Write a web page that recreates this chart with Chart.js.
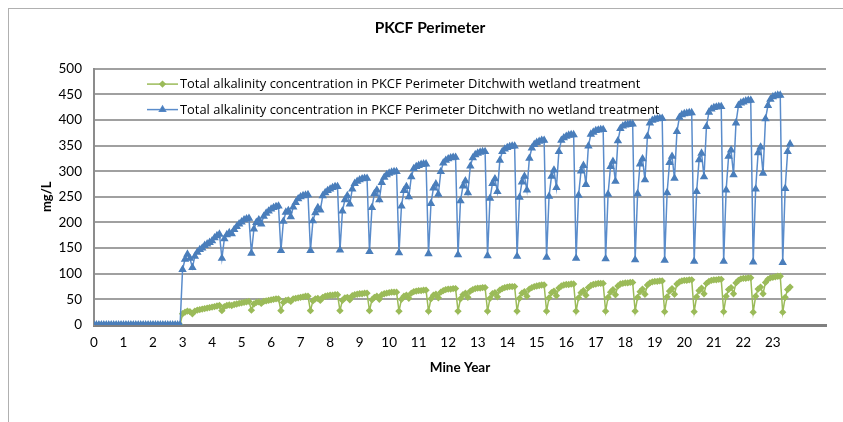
<!DOCTYPE html>
<html>
<head>
<meta charset="utf-8">
<script src="https://cdn.jsdelivr.net/npm/chart.js@4.4.0/dist/chart.umd.min.js"></script>
<style>
  html, body { margin: 0; padding: 0; background: #fff; }
  #wrap { position: relative; width: 843px; height: 422px; }
  #frame { position: absolute; left: 8px; top: 8px; right: -2px; bottom: -2px;
           border-top: 1px solid #b0b0b0; border-left: 1px solid #b0b0b0; }
  canvas { position: absolute; left: 0; top: 0; }
</style>
</head>
<body>
<div id="wrap">
  <div id="frame"></div>
  <canvas id="Chart" width="843" height="422"></canvas>
</div>
<script>
// mine year ticks shown on the x axis
const yearTicks = [0, 1, 2, 3, 4, 5, 6, 7, 8, 9, 10, 11, 12, 13, 14, 15, 16, 17, 18, 19, 20, 21, 22, 23];
const perYear = 12; // monthly values, one row per mine year

const seriesNames = [
  'Total alkalinity concentration in PKCF Perimeter Ditchwith wetland treatment',
  'Total alkalinity concentration in PKCF Perimeter Ditchwith no wetland treatment'
];

// mg/L, with wetland treatment
const wetland = [
  0, 0, 0, 0, 0, 0, 0, 0, 0, 0, 0, 0,
  0, 0, 0, 0, 0, 0, 0, 0, 0, 0, 0, 0,
  0, 0, 0, 0, 0, 0, 0, 0, 0, 0, 0, 0,
  22, 25, 27, 26, 22, 27, 29, 30, 31, 32, 33, 34,
  35, 36, 37, 38, 28, 36, 38, 39, 38, 40, 41, 42,
  43, 44, 45, 46, 29, 41, 44, 45, 42, 46, 47, 48,
  49, 50, 51, 51, 28, 44, 48, 49, 46, 51, 52, 53,
  54, 55, 56, 56, 28, 47, 51, 52, 48, 54, 56, 57,
  58, 58, 59, 59, 28, 48, 53, 54, 49, 57, 59, 60,
  61, 61, 62, 62, 28, 49, 54, 56, 50, 59, 61, 62,
  63, 64, 64, 64, 27, 50, 56, 58, 52, 62, 65, 66,
  67, 67, 68, 68, 27, 51, 58, 60, 53, 64, 67, 69,
  70, 70, 71, 71, 27, 51, 59, 62, 54, 66, 69, 71,
  72, 72, 73, 73, 27, 52, 61, 63, 55, 68, 71, 73,
  74, 75, 75, 75, 27, 52, 62, 65, 56, 70, 73, 75,
  76, 77, 78, 78, 27, 53, 63, 66, 57, 72, 76, 78,
  79, 79, 80, 80, 27, 53, 63, 67, 58, 73, 77, 79,
  80, 81, 81, 81, 27, 54, 64, 69, 59, 76, 80, 81,
  82, 82, 83, 83, 27, 54, 65, 70, 60, 78, 82, 84,
  85, 85, 86, 86, 26, 55, 66, 71, 60, 80, 84, 86,
  87, 87, 88, 88, 26, 55, 67, 72, 61, 81, 85, 87,
  88, 88, 89, 89, 26, 56, 69, 73, 61, 82, 87, 90,
  91, 91, 92, 92, 25, 56, 70, 74, 61, 83, 89, 92,
  93, 94, 95, 95, 25, 54, 69, 74
];

// mg/L, with no wetland treatment
const noWetland = [
  0, 0, 0, 0, 0, 0, 0, 0, 0, 0, 0, 0,
  0, 0, 0, 0, 0, 0, 0, 0, 0, 0, 0, 0,
  0, 0, 0, 0, 0, 0, 0, 0, 0, 0, 0, 0,
  108, 128, 138, 130, 112, 134, 142, 147, 150, 155, 158, 161,
  164, 170, 174, 177, 130, 168, 176, 180, 178, 186, 192, 197,
  201, 205, 207, 208, 140, 187, 200, 205, 197, 212, 218, 222,
  226, 229, 231, 232, 145, 202, 220, 223, 211, 230, 239, 246,
  250, 252, 253, 254, 145, 203, 219, 229, 224, 252, 258, 262,
  265, 268, 270, 270, 146, 222, 244, 252, 236, 265, 276, 280,
  283, 285, 286, 286, 143, 229, 256, 263, 244, 278, 288, 293,
  296, 298, 299, 299, 141, 232, 262, 270, 250, 289, 305, 309,
  311, 313, 314, 314, 139, 237, 267, 275, 255, 299, 316, 321,
  324, 326, 327, 327, 137, 242, 271, 281, 258, 310, 326, 332,
  335, 337, 338, 338, 135, 247, 276, 285, 260, 321, 338, 343,
  346, 348, 349, 349, 134, 249, 279, 290, 263, 325, 345, 352,
  356, 358, 360, 360, 132, 251, 290, 302, 268, 338, 360, 365,
  368, 370, 371, 371, 130, 253, 300, 311, 274, 349, 372, 376,
  379, 380, 381, 381, 129, 255, 309, 319, 280, 359, 383, 388,
  390, 391, 392, 392, 127, 256, 314, 324, 283, 368, 394, 399,
  401, 402, 403, 403, 126, 258, 317, 329, 286, 377, 405, 410,
  412, 413, 414, 414, 124, 260, 322, 335, 289, 387, 415, 421,
  424, 425, 426, 426, 124, 263, 329, 341, 293, 394, 428, 433,
  435, 437, 438, 438, 123, 265, 336, 347, 296, 402, 428, 440,
  445, 447, 448, 448, 122, 266, 338, 353
];

const toPoints = arr => arr.map((v, i) => ({ x: i / perYear, y: v }));

const FONT = 'Lato, "Open Sans", sans-serif';
const LEGEND_FONT = '"Open Sans", Lato, sans-serif';

// legend drawn inside the plot area, Excel style (line with marker)
const innerLegend = {
  id: 'innerLegend',
  afterDraw(chart) {
    const ctx = chart.ctx;
    const area = chart.chartArea;
    ctx.save();
    ctx.font = '12.9px ' + LEGEND_FONT;
    ctx.textBaseline = 'middle';
    chart.data.datasets.forEach((ds, i) => {
      const y = area.top + 15.5 + i * 25.5;
      const x0 = area.left + 53;
      ctx.strokeStyle = ds.borderColor;
      ctx.lineWidth = 1.5;
      ctx.beginPath();
      ctx.moveTo(x0, y);
      ctx.lineTo(x0 + 31, y);
      ctx.stroke();
      Chart.helpers.drawPoint(ctx, {
        pointStyle: ds.pointStyle, radius: ds.pointRadius, borderWidth: 1, rotation: 0
      }, x0 + 15.5, y);
      ctx.fillStyle = ds.pointBackgroundColor;
      ctx.fill();
      ctx.fillStyle = '#000';
      ctx.fillText(ds.label, x0 + 33, y + 0.5);
    });
    ctx.restore();
  }
};

new Chart(document.getElementById('Chart'), {
  type: 'line',
  data: {
    datasets: [
      {
        label: seriesNames[0],
        data: toPoints(wetland),
        borderColor: '#9bbb59',
        backgroundColor: '#9bbb59',
        pointBackgroundColor: '#9bbb59',
        pointBorderColor: '#9bbb59',
        pointStyle: 'rectRot',
        pointRadius: 2.6,
        borderWidth: 1.5,
        order: 1
      },
      {
        label: seriesNames[1],
        data: toPoints(noWetland),
        borderColor: '#5a8ccb',
        backgroundColor: '#4a7ebb',
        pointBackgroundColor: '#4a7ebb',
        pointBorderColor: '#4a7ebb',
        pointStyle: 'triangle',
        pointRadius: 3.4,
        borderWidth: 1.5,
        order: 0
      }
    ]
  },
  options: {
    responsive: false,
    animation: false,
    layout: { padding: { left: 34, right: 17, top: 0, bottom: 0 } },
    plugins: {
      legend: { display: false },
      tooltip: { enabled: false },
      title: {
        display: true,
        text: 'PKCF Perimeter',
        color: '#000',
        font: { family: FONT, size: 15.5, weight: 'bold' },
        padding: { top: 19, bottom: 31 }
      }
    },
    scales: {
      x: {
        type: 'linear',
        min: 0,
        max: 24.8,
        afterFit: s => { s.height = 97; },
        grid: { display: false, drawTicks: false },
        border: { color: '#808080', width: 3 },
        ticks: {
          stepSize: 1,
          autoSkip: false,
          maxRotation: 0,
          padding: 10,
          color: '#000',
          font: { family: FONT, size: 13.5 },
          callback: v => yearTicks.includes(v) ? String(v) : ''
        },
        title: {
          display: true,
          text: 'Mine Year',
          color: '#000',
          font: { family: FONT, size: 13.5, weight: 'bold' },
          padding: { top: 0, bottom: 46 }
        }
      },
      y: {
        min: 0,
        max: 500,
        afterFit: s => { s.width = 60; },
        grid: { color: '#a0a0a0', lineWidth: 2, drawTicks: false },
        border: { color: '#8c8c8c', width: 2 },
        ticks: {
          stepSize: 50,
          padding: 12,
          color: '#000',
          font: { family: FONT, size: 13.5 }
        },
        title: {
          display: true,
          text: 'mg/L',
          color: '#000',
          font: { family: FONT, size: 13, weight: 'bold' },
          padding: { top: 5, bottom: 0 }
        }
      }
    }
  },
  plugins: [innerLegend]
});
</script>
</body>
</html>
